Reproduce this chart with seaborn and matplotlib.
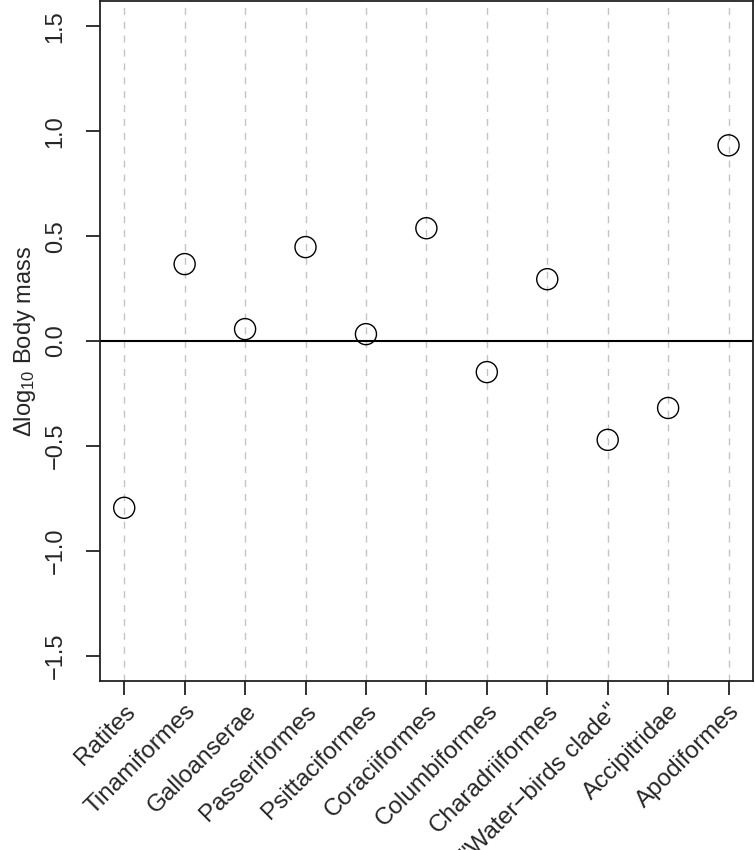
import seaborn as sns
import matplotlib.pyplot as plt
import pandas as pd

clades = ['Ratites', 'Tinamiformes', 'Galloanserae', 'Passeriformes',
          'Psittaciformes', 'Coraciiformes', 'Columbiformes',
          'Charadriiformes', '"Water\u2212birds clade"', 'Accipitridae',
          'Apodiformes']
delta_mass = [-0.795, 0.367, 0.057, 0.448, 0.033, 0.538, -0.148,
              0.295, -0.471, -0.319, 0.933]
yticks = [-1.5, -1.0, -0.5, 0.0, 0.5, 1.0, 1.5]
ytick_labels = ['\u22121.5', '\u22121.0', '\u22120.5', '0.0', '0.5', '1.0', '1.5']

sns.set_style('ticks')
plt.rcParams['font.family'] = ['Liberation Sans', 'DejaVu Sans']
plt.rcParams['mathtext.fontset'] = 'custom'
plt.rcParams['mathtext.rm'] = 'Liberation Sans'
plt.rcParams['mathtext.it'] = 'Liberation Sans:italic'

df = pd.DataFrame({'clade': clades, 'delta': delta_mass})
df['pos'] = range(len(df))

fig = plt.figure(figsize=(7.55, 8.5), dpi=100)
ax = fig.add_axes([0.1325, 0.199, 0.8645, 0.7995])

# vertical guide lines, one per clade
for p in df['pos']:
    ax.axvline(p, color='#c4c4c4', lw=1, ls=(0, (5, 5)), zorder=0)
ax.axhline(0, color='black', lw=1.5, zorder=1)

sns.scatterplot(data=df, x='pos', y='delta', ax=ax, s=230,
                facecolors='none', edgecolor='black', linewidth=1.0,
                zorder=3)

ax.set_xlim(-0.4, 10.4)
ax.set_ylim(-1.62, 1.62)
ax.set_xticks(df['pos'])
ax.set_xticklabels(clades, rotation=45, ha='right', rotation_mode='anchor',
                   fontsize=17.5)
ax.set_yticks(yticks)
ax.set_yticklabels(ytick_labels, rotation=90, va='center', fontsize=17)
ax.tick_params(axis='both', length=10, width=1.3, color='#222222')
ax.tick_params(axis='x', pad=4)
ax.tick_params(axis='y', pad=14)
ax.set_xlabel('')
ax.set_ylabel('\u0394log$_{10}$ Body mass', fontsize=17, labelpad=5)
for sp in ax.spines.values():
    sp.set_linewidth(1.3)
    sp.set_color('#222222')

fig.savefig('out.png', dpi=100)
